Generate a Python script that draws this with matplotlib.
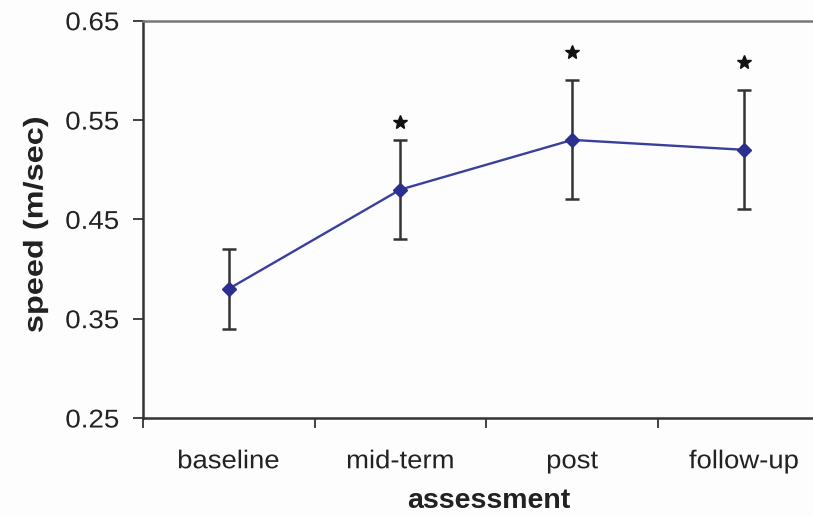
import matplotlib
matplotlib.use("Agg")
import matplotlib.pyplot as plt
import numpy as np
from matplotlib.patheffects import AbstractPathEffect
from matplotlib.transforms import Affine2D

categories = ["baseline", "mid-term", "post", "follow-up"]
speed = [0.38, 0.48, 0.53, 0.52]
err_upper = [0.42, 0.53, 0.59, 0.58]
err_lower = [0.34, 0.43, 0.47, 0.46]
star_y = [None, 0.548, 0.618, 0.608]
yticks = [0.25, 0.35, 0.45, 0.55, 0.65]

plt.rcParams['font.family'] = ['Liberation Sans', 'DejaVu Sans']


class Stretch(AbstractPathEffect):
    """Stretch text paths about an anchor of their extents."""
    def __init__(self, sx=1.0, sy=1.0, anchor='center'):
        super().__init__()
        self.sx, self.sy, self.anchor = sx, sy, anchor

    def draw_path(self, renderer, gc, tpath, affine, rgbFace=None):
        ext = tpath.get_extents(affine)
        if self.anchor == 'right':
            cx = ext.x1
        elif self.anchor == 'left':
            cx = ext.x0
        else:
            cx = (ext.x0 + ext.x1) / 2
        cy = (ext.y0 + ext.y1) / 2
        new = affine + Affine2D().translate(-cx, -cy).scale(self.sx, self.sy).translate(cx, cy)
        renderer.draw_path(gc, tpath, new, rgbFace)


fig = plt.figure(figsize=(8.13, 5.16), dpi=100)
fig.patch.set_facecolor('#fdfdfd')
ax = fig.add_axes([142.7/813, 1-418/516, 687.3/813, 397.3/516])
ax.set_facecolor('#fdfdfd')

x = np.arange(len(categories))
s = np.array(speed)
yerr = np.vstack([s - np.array(err_lower), np.array(err_upper) - s])
ax.errorbar(x, s, yerr=yerr, fmt='none', ecolor='#333333', elinewidth=1.8,
            capsize=4.8, capthick=1.8, zorder=2)
ax.plot(x, s, color='#3A3F9E', lw=1.7, marker='D', markersize=7,
        markerfacecolor='#2B2F8F', markeredgecolor='#2B2F8F', zorder=3)
for xi, sy in zip(x, star_y):
    if sy is not None:
        ax.plot(xi, sy, marker='*', color='#111111', markersize=10.5, zorder=4)

ax.set_xlim(-0.5, len(categories) - 0.5)
ax.set_ylim(0.25, 0.65)
ax.set_yticks(yticks)
ax.set_yticklabels([f"{v:.2f}" for v in yticks], fontsize=18.5, color='#222222')
ax.set_xticks(np.arange(len(categories) + 1) - 0.5)
ax.set_xticklabels([])
ax.set_xticks(x, minor=True)
ax.set_xticklabels(categories, minor=True, fontsize=18.5, color='#222222')
ax.tick_params(axis='x', which='minor', length=0, pad=22.5)
ax.tick_params(axis='x', which='major', length=7.2, width=1.3, color='#333333', direction='out')
ax.tick_params(axis='y', length=7.2, width=1.3, color='#333333', pad=9.6)

ax.spines['left'].set_color('#333333')
ax.spines['left'].set_linewidth(1.8)
ax.spines['bottom'].set_color('#333333')
ax.spines['bottom'].set_linewidth(1.8)
ax.spines['top'].set_color('#777777')
ax.spines['top'].set_linewidth(1.8)
ax.spines['right'].set_visible(False)

fig.text(35.5/813, 1-225/516, "speed (m/sec)", rotation=90, ha='center', va='center',
         fontsize=19.5, fontweight='bold', color='#222222',
         path_effects=[Stretch(sy=1.2)])
fig.text(489/813, 1.5/516, "assessment", ha='center', va='bottom',
         fontsize=20.5, fontweight='bold', color='#222222')

fig.canvas.draw()
for lbl in ax.get_yticklabels():
    lbl.set_path_effects([Stretch(sx=1.08, anchor='right')])
for lbl in ax.get_xticklabels(minor=True):
    lbl.set_path_effects([Stretch(sx=1.07)])

fig.savefig("out.png", dpi=100, facecolor=fig.get_facecolor())
